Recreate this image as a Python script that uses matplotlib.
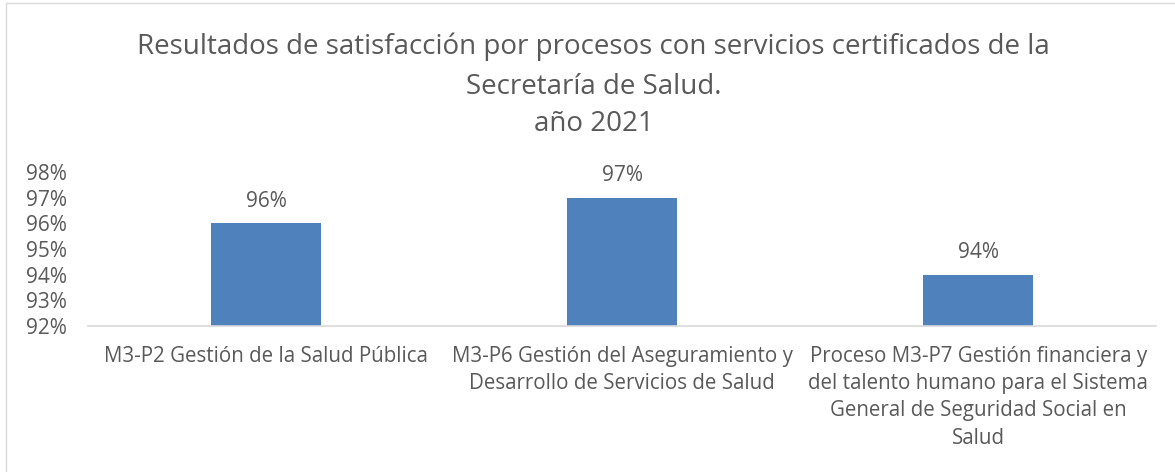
import matplotlib.pyplot as plt
from matplotlib.patches import Rectangle
from matplotlib.ticker import FuncFormatter

# Data
categories = [
    "M3-P2 Gestión de la Salud Pública",
    "M3-P6 Gestión del Aseguramiento y\nDesarrollo de Servicios de Salud",
    "Proceso M3-P7 Gestión financiera y\ndel talento humano para el Sistema\nGeneral de Seguridad Social en\nSalud",
]
values = [96, 97, 94]
y_ticks = [92, 93, 94, 95, 96, 97, 98]

plt.rcParams['font.family'] = ['Open Sans', 'DejaVu Sans']
gray = "#595959"

fig = plt.figure(figsize=(11.75, 4.72), dpi=100)
ax = fig.add_axes([0.075, 0.309, 0.909, 0.327])

x = range(len(categories))
ax.bar(x, values, width=0.31, color="#4F81BD")
for i, v in zip(x, values):
    ax.text(i, v + 0.45, f"{v}%", ha="center", va="bottom", fontsize=15, color=gray)

ax.set_xlim(-0.5, 2.5)
ax.set_ylim(92, 98)
ax.set_yticks(y_ticks)
ax.yaxis.set_major_formatter(FuncFormatter(lambda v, p: f"{v:.0f}%"))
ax.set_xticks(list(x))
ax.set_xticklabels(categories, fontsize=14.8, color=gray, linespacing=1.4, va="top")
ax.tick_params(axis="y", labelsize=15, labelcolor=gray, length=0, pad=15)
ax.tick_params(axis="x", length=0, pad=14)
for s in ["top", "right", "left"]:
    ax.spines[s].set_visible(False)
ax.spines["bottom"].set_color("#D9D9D9")
ax.spines["bottom"].set_linewidth(1.2)

fig.text(0.505, 0.902, "Resultados de satisfacción por procesos con servicios certificados de la",
         ha="center", va="center", fontsize=20, color=gray)
fig.text(0.505, 0.815, "Secretaría de Salud.", ha="center", va="center", fontsize=20, color=gray)
fig.text(0.505, 0.738, "año 2021", ha="center", va="center", fontsize=20, color=gray)

# chart border
fig.patches.append(Rectangle((6 / 1175, -0.01), 1.0, 1 - 3 / 472 + 0.01, transform=fig.transFigure,
                             fill=False, edgecolor="#D9D9D9", linewidth=1))

fig.savefig("out.png", dpi=100)
